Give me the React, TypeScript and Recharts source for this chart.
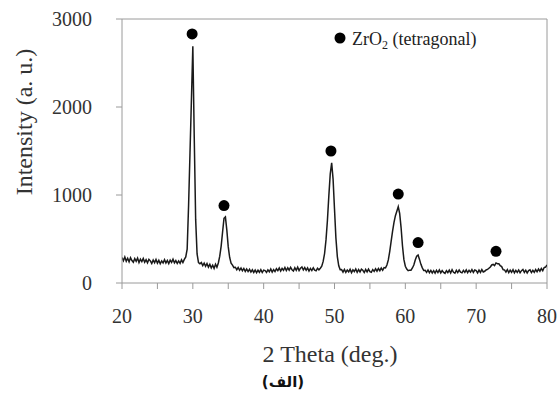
import React from 'react';
import { ComposedChart, Line, Scatter, XAxis, YAxis, ReferenceLine } from 'recharts';

// 2θ sampling grid (deg.)
const twoTheta = [
  20, 20.2, 20.4, 20.6, 20.8, 21, 21.2, 21.4, 21.6, 21.8,
  22, 22.2, 22.4, 22.6, 22.8, 23, 23.2, 23.4, 23.6, 23.8,
  24, 24.2, 24.4, 24.6, 24.8, 25, 25.2, 25.4, 25.6, 25.8,
  26, 26.2, 26.4, 26.6, 26.8, 27, 27.2, 27.4, 27.6, 27.8,
  28, 28.2, 28.4, 28.6, 28.8, 29, 29.2, 29.4, 29.6, 29.8,
  30, 30.2, 30.4, 30.6, 30.8, 31, 31.2, 31.4, 31.6, 31.8,
  32, 32.2, 32.4, 32.6, 32.8, 33, 33.2, 33.4, 33.6, 33.8,
  34, 34.2, 34.4, 34.6, 34.8, 35, 35.2, 35.4, 35.6, 35.8,
  36, 36.2, 36.4, 36.6, 36.8, 37, 37.2, 37.4, 37.6, 37.8,
  38, 38.2, 38.4, 38.6, 38.8, 39, 39.2, 39.4, 39.6, 39.8,
  40, 40.2, 40.4, 40.6, 40.8, 41, 41.2, 41.4, 41.6, 41.8,
  42, 42.2, 42.4, 42.6, 42.8, 43, 43.2, 43.4, 43.6, 43.8,
  44, 44.2, 44.4, 44.6, 44.8, 45, 45.2, 45.4, 45.6, 45.8,
  46, 46.2, 46.4, 46.6, 46.8, 47, 47.2, 47.4, 47.6, 47.8,
  48, 48.2, 48.4, 48.6, 48.8, 49, 49.2, 49.4, 49.6, 49.8,
  50, 50.2, 50.4, 50.6, 50.8, 51, 51.2, 51.4, 51.6, 51.8,
  52, 52.2, 52.4, 52.6, 52.8, 53, 53.2, 53.4, 53.6, 53.8,
  54, 54.2, 54.4, 54.6, 54.8, 55, 55.2, 55.4, 55.6, 55.8,
  56, 56.2, 56.4, 56.6, 56.8, 57, 57.2, 57.4, 57.6, 57.8,
  58, 58.2, 58.4, 58.6, 58.8, 59, 59.2, 59.4, 59.6, 59.8,
  60, 60.2, 60.4, 60.6, 60.8, 61, 61.2, 61.4, 61.6, 61.8,
  62, 62.2, 62.4, 62.6, 62.8, 63, 63.2, 63.4, 63.6, 63.8,
  64, 64.2, 64.4, 64.6, 64.8, 65, 65.2, 65.4, 65.6, 65.8,
  66, 66.2, 66.4, 66.6, 66.8, 67, 67.2, 67.4, 67.6, 67.8,
  68, 68.2, 68.4, 68.6, 68.8, 69, 69.2, 69.4, 69.6, 69.8,
  70, 70.2, 70.4, 70.6, 70.8, 71, 71.2, 71.4, 71.6, 71.8,
  72, 72.2, 72.4, 72.6, 72.8, 73, 73.2, 73.4, 73.6, 73.8,
  74, 74.2, 74.4, 74.6, 74.8, 75, 75.2, 75.4, 75.6, 75.8,
  76, 76.2, 76.4, 76.6, 76.8, 77, 77.2, 77.4, 77.6, 77.8,
  78, 78.2, 78.4, 78.6, 78.8, 79, 79.2, 79.4, 79.6, 79.8,
  80,
];

const intensity = [
  290, 252, 296, 248, 281, 240, 288, 255, 236, 278,
  246, 283, 232, 270, 243, 279, 237, 266, 230, 269,
  252, 222, 262, 231, 268, 225, 257, 219, 251, 228,
  265, 226, 256, 220, 259, 234, 270, 229, 255, 222,
  251, 224, 263, 232, 268, 296, 385, 880, 1480, 2080,
  2690, 1650, 720, 330, 232, 218, 232, 198, 226, 190,
  222, 181, 212, 172, 203, 166, 214, 180, 228, 305,
  420, 580, 735, 752, 600, 410, 290, 226, 203, 175,
  179, 151, 176, 144, 170, 139, 165, 132, 159, 130,
  155, 124, 150, 120, 147, 117, 145, 122, 152, 119,
  146, 141, 121, 149, 128, 159, 124, 153, 131, 162,
  140, 170, 135, 165, 144, 177, 142, 172, 146, 178,
  151, 137, 174, 145, 180, 142, 169, 183, 148, 175,
  144, 171, 136, 166, 141, 173, 145, 138, 168, 150,
  168, 192, 245, 335, 490, 710, 990, 1240, 1365, 1180,
  840, 510, 300, 196, 152, 153, 124, 155, 120, 148,
  127, 156, 118, 150, 130, 159, 122, 152, 125, 157,
  145, 119, 154, 126, 158, 129, 121, 153, 132, 162,
  135, 165, 140, 170, 144, 175, 172, 205, 262, 360,
  475, 590, 690, 765, 815, 867, 790, 630, 420, 265,
  190, 158, 140, 146, 145, 171, 205, 262, 305, 318,
  268, 212, 172, 142, 144, 121, 148, 117, 143, 114,
  140, 112, 145, 119, 149, 115, 142, 121, 110, 141,
  119, 146, 114, 151, 122, 111, 144, 118, 148, 123,
  115, 143, 120, 150, 117, 145, 124, 153, 121, 147,
  140, 114, 146, 120, 152, 125, 133, 148, 154, 168,
  182, 205, 212, 198, 228, 220, 219, 196, 186, 152,
  149, 124, 153, 118, 145, 122, 151, 115, 143, 120,
  148, 117, 140, 154, 121, 146, 114, 142, 150, 119,
  145, 122, 153, 127, 159, 134, 165, 140, 176, 181,
  205,
];

// ZrO2 (tetragonal) peak markers
const markerTheta = [29.9, 34.4, 49.5, 59.0, 61.8, 72.8];
const markerY = [2830, 880, 1500, 1010, 460, 360];

const xTicks = [20, 25, 30, 35, 40, 45, 50, 55, 60, 65, 70, 75, 80];
const yTicks = [0, 1000, 2000, 3000];

const pattern = twoTheta.map((x, i) => ({ x, y: intensity[i] }));
const markers = markerTheta.map((x, i) => ({ x, y: markerY[i] }));

const serif = '"Liberation Serif", "Times New Roman", serif';
const axisGray = '#9a9a9a';
const textColor = '#333';

const Dot = (props: any) => <circle cx={props.cx} cy={props.cy} r={5.5} fill="#000" />;

const XTick = (p: any) => {
  const v = p.payload.value;
  if (v % 10 !== 0) return <g />;
  return (
    <text x={p.x} y={p.y} dy="0.71em" textAnchor="middle" fontSize={20} fontFamily={serif} fill={textColor}>
      {v}
    </text>
  );
};

const YTick = (p: any) => (
  <text x={p.x} y={p.y} dy="0.35em" textAnchor="end" fontSize={20} fontFamily={serif} fill={textColor}>
    {p.payload.value}
  </text>
);

export default function App() {
  return (
    <div style={{ position: 'absolute', left: 0, top: 0, width: 557, height: 394, background: '#fff', fontFamily: serif }}>
      <ComposedChart width={557} height={394} margin={{ top: 19, right: 10, bottom: 0, left: 0 }}>
        <XAxis
          dataKey="x"
          type="number"
          domain={[20, 80]}
          ticks={xTicks}
          interval={0}
          height={111}
          stroke={axisGray}
          tickSize={6}
          tickMargin={20}
          tick={<XTick />}
          allowDataOverflow
        />
        <YAxis
          type="number"
          domain={[0, 3000]}
          ticks={yTicks}
          interval={0}
          width={122}
          stroke={axisGray}
          tickSize={6}
          tickMargin={24}
          tick={<YTick />}
        />
        <ReferenceLine y={3000} stroke={axisGray} />
        <ReferenceLine x={80} stroke={axisGray} />
        <Line
          data={pattern}
          dataKey="y"
          type="linear"
          stroke="#1a1a1a"
          strokeWidth={1.5}
          dot={false}
          isAnimationActive={false}
        />
        <Scatter data={markers} dataKey="y" shape={<Dot />} isAnimationActive={false} />
      </ComposedChart>
      <svg width={557} height={394} style={{ position: 'absolute', left: 0, top: 0, pointerEvents: 'none' }}>
        <circle cx={340} cy={38} r={5.5} fill="#000" />
        <text x={352} y={45} fontSize={18} fontFamily={serif} fill="#222">
          ZrO<tspan fontSize={12} dy={4}>2</tspan>
          <tspan dy={-4}> (tetragonal)</tspan>
        </text>
        <text transform="translate(32,122) rotate(-90)" textAnchor="middle" fontSize={24} fontFamily={serif} fill={textColor}>
          Intensity (a. u.)
        </text>
        <text x={330} y={362} textAnchor="middle" fontSize={24} fontFamily={serif} fill={textColor}>
          2 Theta (deg.)
        </text>
        <text x={283} y={387} textAnchor="middle" fontSize={15} fontWeight="bold" fontFamily='"DejaVu Sans", sans-serif' fill="#111">
          (الف)
        </text>
      </svg>
    </div>
  );
}
